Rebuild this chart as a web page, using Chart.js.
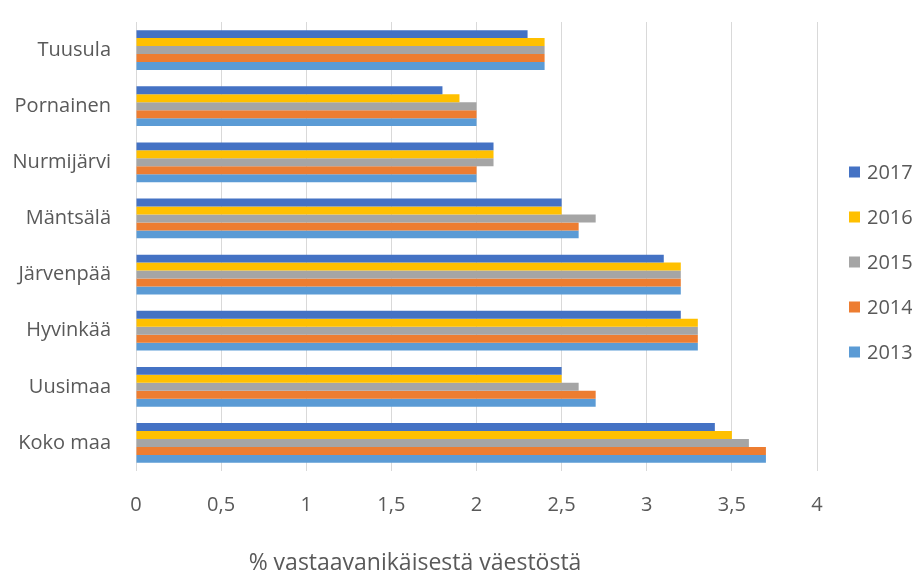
<!DOCTYPE html>
<html>
<head>
<meta charset="utf-8">
<script src="https://cdn.jsdelivr.net/npm/chart.js@4"></script>
<style>
  html, body { margin: 0; padding: 0; background: #fff; }
  #wrap { position: relative; width: 912px; height: 578px; }
  #xtitle {
    position: absolute; left: 415px; top: 561px;
    transform: translate(-50%, -50%);
    font-family: "Open Sans", "DejaVu Sans", sans-serif;
    font-size: 23px; color: #595959; white-space: nowrap;
  }
</style>
</head>
<body>
<div id="wrap">
  <canvas id="chart" width="912" height="578"></canvas>
  <div id="xtitle">% vastaavanikäisestä väestöstä</div>
</div>
<script>
// categories, top to bottom
const areas = ['Tuusula', 'Pornainen', 'Nurmijärvi', 'Mäntsälä', 'Järvenpää', 'Hyvinkää', 'Uusimaa', 'Koko maa'];

// series values (% of same-age population)
const y2017 = [2.3, 1.8, 2.1, 2.5, 3.1, 3.2, 2.5, 3.4];
const y2016 = [2.4, 1.9, 2.1, 2.5, 3.2, 3.3, 2.5, 3.5];
const y2015 = [2.4, 2.0, 2.1, 2.7, 3.2, 3.3, 2.6, 3.6];
const y2014 = [2.4, 2.0, 2.0, 2.6, 3.2, 3.3, 2.7, 3.7];
const y2013 = [2.4, 2.0, 2.0, 2.6, 3.2, 3.3, 2.7, 3.7];

const xTicks = [0, 0.5, 1, 1.5, 2, 2.5, 3, 3.5, 4];

const series = [
    { label: '2017', data: y2017, color: '#4472C4' },
    { label: '2016', data: y2016, color: '#FFC000' },
    { label: '2015', data: y2015, color: '#A5A5A5' },
    { label: '2014', data: y2014, color: '#ED7D31' },
    { label: '2013', data: y2013, color: '#5B9BD5' }
];

const textColor = '#595959';
const fontFamily = '"Open Sans", "DejaVu Sans", sans-serif';

// legend on the right, drawn from the datasets
const sideLegend = {
    id: 'sideLegend',
    afterDraw(chart) {
        const c = chart.ctx;
        const sets = chart.data.datasets;
        const x = 849, top = 172, step = 45;
        c.save();
        c.font = '20px ' + fontFamily;
        c.textBaseline = 'middle';
        c.textAlign = 'left';
        sets.forEach((ds, i) => {
            const y = top + i * step;
            c.fillStyle = ds.backgroundColor;
            c.fillRect(x, y - 5.5, 11, 11);
            c.fillStyle = textColor;
            c.fillText(ds.label, x + 18, y + 1);
        });
        c.restore();
    }
};

document.addEventListener('DOMContentLoaded', () => {
    const ctx = document.getElementById('chart').getContext('2d');

    new Chart(ctx, {
        type: 'bar',
        data: {
            labels: areas,
            datasets: series.map(s => ({
                label: s.label,
                data: s.data,
                backgroundColor: s.color,
                borderWidth: 0,
                categoryPercentage: 0.71,
                barPercentage: 1.0
            }))
        },
        options: {
            indexAxis: 'y',
            responsive: false,
            animation: false,
            layout: {
                padding: { top: 22, right: 95, bottom: 61, left: 0 }
            },
            scales: {
                x: {
                    min: 0,
                    max: 4,
                    afterBuildTicks: axis => {
                        axis.ticks = xTicks.map(v => ({ value: v }));
                    },
                    afterFit: axis => {
                        axis.height = 46;
                        axis.paddingLeft = 0;
                        axis.paddingRight = 0;
                    },
                    ticks: {
                        color: textColor,
                        font: { family: fontFamily, size: 20 },
                        padding: 22,
                        maxRotation: 0,
                        callback: v => String(v).replace('.', ',')
                    },
                    grid: {
                        color: '#D9D9D9',
                        drawTicks: false
                    },
                    border: { display: false }
                },
                y: {
                    afterFit: axis => {
                        axis.width = 136;
                        axis.paddingTop = 0;
                        axis.paddingBottom = 0;
                    },
                    grid: { display: false, drawTicks: false },
                    border: { display: false },
                    ticks: {
                        color: textColor,
                        font: { family: fontFamily, size: 20 },
                        padding: 25
                    }
                }
            },
            plugins: {
                legend: { display: false },
                tooltip: { enabled: false }
            }
        },
        plugins: [sideLegend]
    });
});
</script>
</body>
</html>
